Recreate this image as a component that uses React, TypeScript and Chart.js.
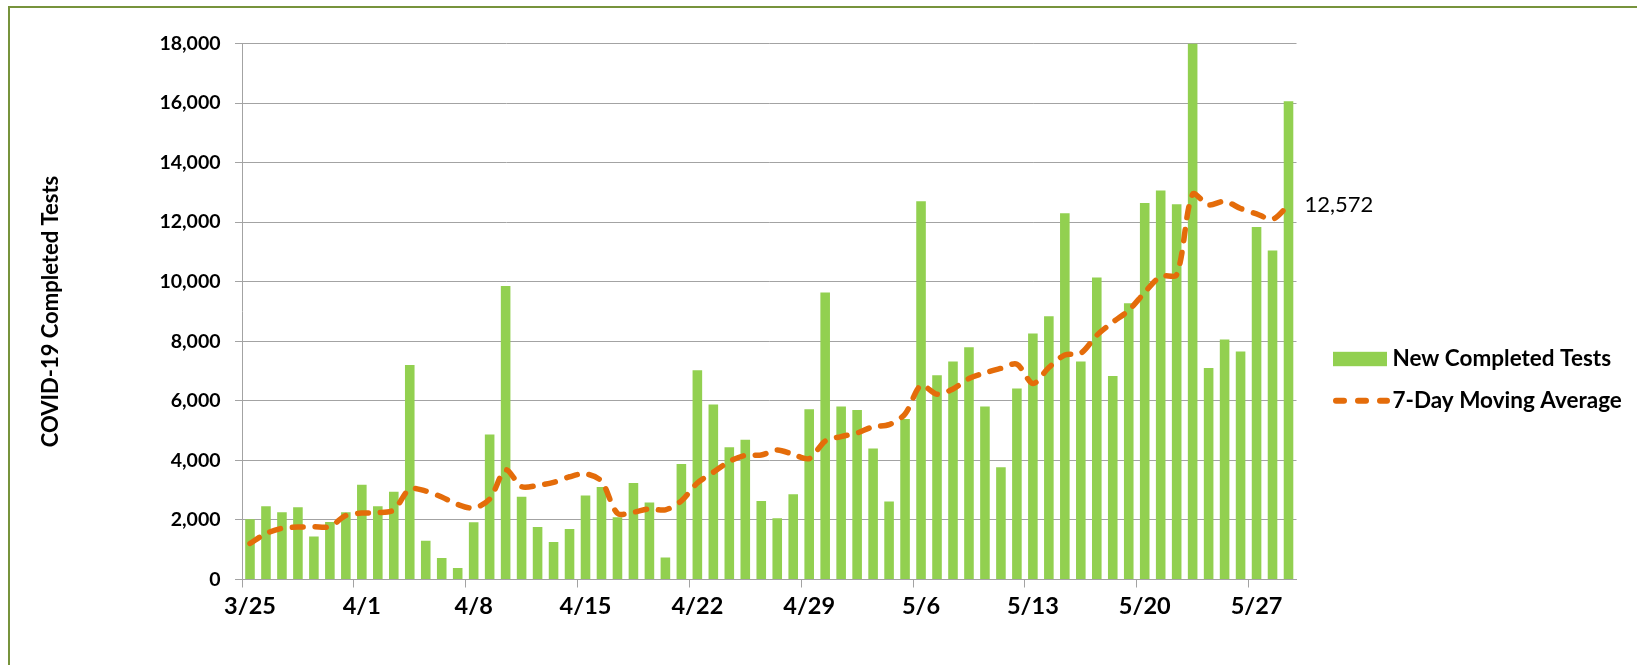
import React, { useEffect, useRef } from "react";
import { Chart, registerables } from "chart.js";

Chart.register(...registerables);

const categories: string[] = [
  "3/25", "3/26", "3/27", "3/28", "3/29", "3/30", "3/31",
  "4/1", "4/2", "4/3", "4/4", "4/5", "4/6", "4/7",
  "4/8", "4/9", "4/10", "4/11", "4/12", "4/13", "4/14",
  "4/15", "4/16", "4/17", "4/18", "4/19", "4/20", "4/21",
  "4/22", "4/23", "4/24", "4/25", "4/26", "4/27", "4/28",
  "4/29", "4/30", "5/1", "5/2", "5/3", "5/4", "5/5",
  "5/6", "5/7", "5/8", "5/9", "5/10", "5/11", "5/12",
  "5/13", "5/14", "5/15", "5/16", "5/17", "5/18", "5/19",
  "5/20", "5/21", "5/22", "5/23", "5/24", "5/25", "5/26",
  "5/27", "5/28", "5/29",
];

const newCompletedTests: number[] = [
  2020, 2460, 2260, 2430, 1440, 1930, 2260,
  3180, 2460, 2950, 7200, 1300, 720, 390,
  1920, 4870, 9860, 2780, 1760, 1260, 1700,
  2820, 3110, 2090, 3240, 2590, 740, 3880,
  7030, 5880, 4440, 4690, 2640, 2060, 2860,
  5720, 9640, 5810, 5690, 4400, 2620, 5390,
  12700, 6860, 7320, 7800, 5810, 3770, 6410,
  8260, 8840, 12300, 7320, 10140, 6830, 9280,
  12640, 13060, 12600, 18000, 7100, 8060, 7660,
  11840, 11050, 16060,
];

const movingAverage: number[] = [
  1210, 1540, 1720, 1760, 1770, 1780, 2150,
  2230, 2240, 2340, 3040, 2970, 2770, 2520,
  2400, 2700, 3680, 3120, 3160, 3260, 3450,
  3550, 3300, 2220, 2260, 2370, 2340, 2640,
  3240, 3600, 3960, 4170, 4180, 4350, 4200,
  4060, 4650, 4800, 4920, 5130, 5200, 5560,
  6520, 6220, 6400, 6750, 6940, 7090, 7230,
  6580, 7120, 7540, 7600, 8200, 8640, 9040,
  9640, 10180, 10240, 12940, 12580, 12700, 12460,
  12280, 12100, 12572,
];

const tickLabels: string[] = ["3/25", "4/1", "4/8", "4/15", "4/22", "4/29", "5/6", "5/13", "5/20", "5/27"];

const seriesNames: string[] = ["New Completed Tests", "7-Day Moving Average"];
const yAxisTitle = "COVID-19 Completed Tests";

const GREEN = "#92D050";
const ORANGE = "#E46C0A";
const GRID = "#A3A3A3";
const BORDER = "#77933C";
const FONT = "Lato";

const legendPlugin = {
  id: "customLegend",
  afterDraw(chart: any) {
    const { ctx, chartArea } = chart;
    const cy = (chartArea.top + chartArea.bottom) / 2;
    const x0 = chartArea.right + 36.5;
    ctx.save();
    const y1 = cy + 47.5;
    ctx.fillStyle = GREEN;
    ctx.fillRect(x0, y1 - 7.2, 54, 14.4);
    const y2 = cy + 89.2;
    ctx.strokeStyle = ORANGE;
    ctx.lineWidth = 6;
    ctx.lineCap = "round";
    ctx.setLineDash([8, 14]);
    ctx.beginPath();
    ctx.moveTo(x0 + 3, y2);
    ctx.lineTo(x0 + 54, y2);
    ctx.stroke();
    ctx.setLineDash([]);
    ctx.fillStyle = "#000";
    ctx.font = `bold 22.5px ${FONT}`;
    ctx.textAlign = "left";
    ctx.textBaseline = "middle";
    ctx.fillText(seriesNames[0], x0 + 59.5, y1);
    ctx.fillText(seriesNames[1], x0 + 59.5, y2);

    const meta = chart.getDatasetMeta(1);
    const last = meta.data[meta.data.length - 1];
    if (last) {
      const v = movingAverage[movingAverage.length - 1];
      ctx.font = `normal 22px ${FONT}`;
      ctx.fillText(v.toLocaleString("en-US"), last.x + 16, last.y);
    }
    ctx.restore();
  },
};

function ChartView() {
  const canvasRef = useRef<HTMLCanvasElement | null>(null);

  useEffect(() => {
    let chart: Chart | null = null;
    let cancelled = false;
    const build = () => {
      if (cancelled || !canvasRef.current) return;
      Chart.defaults.font.family = FONT;
      Chart.defaults.color = "#000";
      chart = new Chart(canvasRef.current, {
        type: "bar",
        data: {
          labels: categories,
          datasets: [
            {
              type: "bar",
              label: seriesNames[0],
              data: newCompletedTests,
              backgroundColor: GREEN,
              borderWidth: 0,
              barPercentage: 0.6,
              categoryPercentage: 1.0,
              order: 2,
            } as any,
            {
              type: "line",
              label: seriesNames[1],
              data: movingAverage,
              borderColor: ORANGE,
              borderWidth: 5.5,
              borderDash: [11, 12],
              borderCapStyle: "round",
              pointRadius: 0,
              tension: 0.3,
              fill: false,
              order: 1,
            } as any,
          ],
        },
        options: {
          responsive: false,
          animation: false,
          devicePixelRatio: 1,
          layout: { padding: { top: 43.5, right: 340.5, bottom: 40.5, left: 0 } },
          plugins: {
            legend: { display: false },
            tooltip: { enabled: false },
          },
          scales: {
            x: {
              offset: true,
              afterFit: (scale: any) => {
                scale.height = 45;
              },
              grid: {
                offset: true,
                drawOnChartArea: false,
                tickLength: 8,
                color: (c: any) => (c.index !== undefined && c.index % 7 === 0 ? GRID : "rgba(0,0,0,0)"),
              },
              border: { display: true, color: GRID, width: 1 },
              ticks: {
                autoSkip: false,
                maxRotation: 0,
                minRotation: 0,
                padding: 5,
                color: "#000",
                font: { family: FONT, size: 23.5, weight: "bold" },
                callback: (_v: any, i: number) => (tickLabels.includes(categories[i]) ? categories[i] : ""),
              },
            },
            y: {
              min: 0,
              max: 18000,
              afterFit: (scale: any) => {
                scale.width = 242;
              },
              grid: { color: GRID, tickLength: 7, lineWidth: 1 },
              border: { display: true, color: GRID, width: 1 },
              ticks: {
                stepSize: 2000,
                padding: 14.5,
                color: "#000",
                font: { family: FONT, size: 19.5, weight: "bold" },
                callback: (v: any) => Number(v).toLocaleString("en-US"),
              },
              title: {
                display: true,
                text: yAxisTitle,
                color: "#000",
                font: { family: FONT, size: 22, weight: "bold" },
                padding: { top: 37.5, bottom: 0 },
              },
            },
          },
        },
        plugins: [legendPlugin],
      });
    };
    const fontsReady = (document as any).fonts
      ? Promise.all([
          (document as any).fonts.load(`bold 20px ${FONT}`),
          (document as any).fonts.load(`normal 20px ${FONT}`),
        ]).catch(() => null)
      : Promise.resolve(null);
    fontsReady.then(build);
    return () => {
      cancelled = true;
      if (chart) chart.destroy();
    };
  }, []);

  return (
    <div
      style={{
        position: "fixed",
        left: 0,
        top: 0,
        width: 1637,
        height: 665,
        overflow: "hidden",
        background: "#fff",
      }}
    >
      <div
        style={{
          position: "absolute",
          left: 8,
          top: 6,
          width: 1700,
          height: 700,
          borderTop: `2px solid ${BORDER}`,
          borderLeft: `2px solid ${BORDER}`,
        }}
      />
      <canvas
        ref={canvasRef}
        width={1637}
        height={665}
        style={{ position: "absolute", left: 0, top: 0, display: "block", width: 1637, height: 665 }}
      />
    </div>
  );
}

export default function App() {
  return <ChartView />;
}
